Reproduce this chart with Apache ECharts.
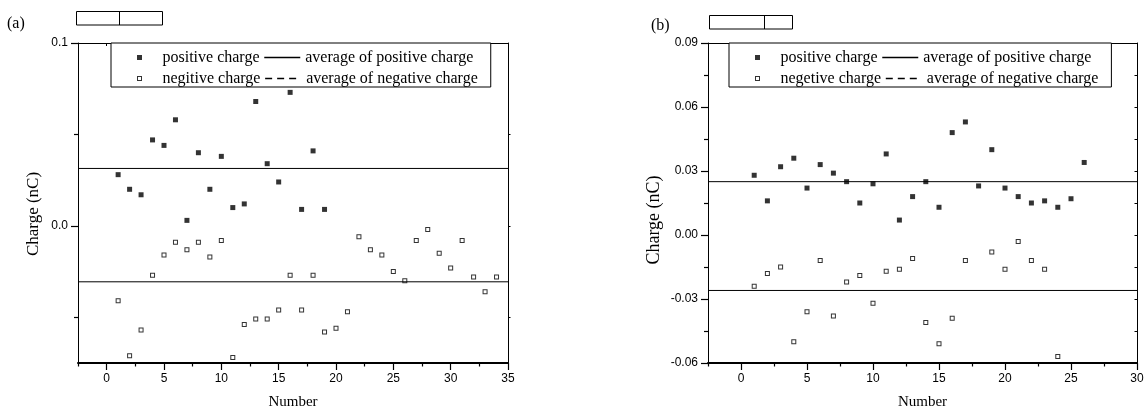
<!DOCTYPE html>
<html><head><meta charset="utf-8">
<script src="https://cdn.jsdelivr.net/npm/echarts@6/dist/echarts.min.js"></script>
<style>html,body{margin:0;padding:0;background:#fff}#c{width:1145px;height:407px}</style>
</head><body><div id="c"></div>
<script>
// ---------- data: panel (a) ----------
const posNumA = [1,2,3,4,5,6,7,8,9,10,11,12,13,14,15,16,17,18,19];
const posA = [0.028,0.020,0.017,0.047,0.044,0.058,0.003,0.040,0.020,0.038,0.010,0.012,0.068,0.034,0.024,0.073,0.009,0.041,0.009];
const negNumA = [1,2,3,4,5,6,7,8,9,10,11,12,13,14,15,16,17,18,19,20,21,22,23,24,25,26,27,28,29,30,31,32,33,34];
const negA = [-0.041,-0.071,-0.057,-0.027,-0.016,-0.009,-0.013,-0.009,-0.017,-0.008,-0.072,-0.054,-0.051,-0.051,-0.046,-0.027,-0.046,-0.027,-0.058,-0.056,-0.047,-0.006,-0.013,-0.016,-0.025,-0.030,-0.008,-0.002,-0.015,-0.023,-0.008,-0.028,-0.036,-0.028];
const avgPosA = 0.0314;
const avgNegA = -0.0306;

// ---------- data: panel (b) ----------
const posNumB = [1,2,3,4,5,6,7,8,9,10,11,12,13,14,15,16,17,18,19,20,21,22,23,24,25,26];
const posB = [0.028,0.016,0.032,0.036,0.022,0.033,0.029,0.025,0.015,0.024,0.038,0.007,0.018,0.025,0.013,0.048,0.053,0.023,0.040,0.022,0.018,0.015,0.016,0.013,0.017,0.034];
const negNumB = [1,2,3,4,5,6,7,8,9,10,11,12,13,14,15,16,17,19,20,21,22,23,24];
const negB = [-0.024,-0.018,-0.015,-0.050,-0.036,-0.012,-0.038,-0.022,-0.019,-0.032,-0.017,-0.016,-0.011,-0.041,-0.051,-0.039,-0.012,-0.008,-0.016,-0.003,-0.012,-0.016,-0.057];
const avgPosB = 0.025;
const avgNegB = -0.026;

// ---------- ticks ----------
const xMajorA = [0,5,10,15,20,25,30,35];
const xMinorA = [-2.5,2.5,7.5,12.5,17.5,22.5,27.5,32.5];
const xTopA = [0,2.5,5,7.5,10,12.5,15,17.5,20,22.5,25,27.5,30,32.5];
const yMajorA = [0,0.1];
const yMinorA = [-0.05,0.05];
const yRightA = [-0.05,0,0.05];

const xMajorB = [0,5,10,15,20,25,30];
const xMinorB = [-2.5,2.5,7.5,12.5,17.5,22.5,27.5];
const xTopB = [0.76,4.02,7.28,10.55,13.84,17.12,20.41,23.6,26.86];
const yMajorB = [-0.06,-0.03,0,0.03,0.06,0.09];
const yMinorB = [-0.045,-0.015,0.015,0.045,0.075];
const yRightB = [-0.045,-0.03,-0.015,0,0.015,0.03,0.045,0.06,0.075];

const namesA = ['positive charge','average of positive charge','negitive charge','average of negative charge'];
const namesB = ['positive charge','average of positive charge','negetive charge','average of negative charge'];

const SERIF = 'Liberation Serif';
const SANS = 'Liberation Sans';
const SQ = 'path://M0,0H10V10H0Z';
const HSQ = 'path://M0,0H10V10H0ZM2,2V8H8V2Z';

const zip = (xs, ys) => xs.map((x, i) => [x, ys[i]]);

function xAxes(grid, xmin, xmax, major, minor, top) {
  return [
    { gridIndex: grid, type: 'value', position: 'bottom', min: xmin, max: xmax,
      axisLine: { onZero: false, lineStyle: { color: '#000', width: 2 } },
      axisTick: { customValues: major, length: 7, lineStyle: { color: '#000', width: 1.2 } },
      axisLabel: { customValues: major, color: '#000', fontFamily: SANS, fontSize: 12, margin: 10 },
      splitLine: { show: false },
      name: 'Number', nameLocation: 'middle', nameGap: 32,
      nameTextStyle: { color: '#000', fontFamily: SERIF, fontSize: 15 } },
    { gridIndex: grid, type: 'value', position: 'bottom', min: xmin, max: xmax,
      axisLine: { show: false, onZero: false },
      axisTick: { customValues: minor, length: 3.5, lineStyle: { color: '#000', width: 1.2 } },
      axisLabel: { show: false }, splitLine: { show: false } },
    { gridIndex: grid, type: 'value', position: 'top', min: xmin, max: xmax,
      axisLine: { onZero: false, lineStyle: { color: '#000', width: 1 } },
      axisTick: { customValues: top, inside: true, length: 3, lineStyle: { color: '#000', width: 1 } },
      axisLabel: { show: false }, splitLine: { show: false } }
  ];
}

function yAxes(grid, ymin, ymax, major, minor, right, rightInside, fmt, nameGap, nameSize, namePad) {
  return [
    { gridIndex: grid, type: 'value', position: 'left', min: ymin, max: ymax,
      axisLine: { onZero: false, lineStyle: { color: '#000', width: 1 } },
      axisTick: { customValues: major, length: 7, lineStyle: { color: '#000', width: 1.2 } },
      axisLabel: { customValues: major, color: '#000', fontFamily: SANS, fontSize: 12, margin: 10, formatter: fmt },
      splitLine: { show: false },
      name: 'Charge (nC)', nameLocation: 'middle', nameGap: nameGap,
      nameTextStyle: { color: '#000', fontFamily: SERIF, fontSize: nameSize, padding: namePad } },
    { gridIndex: grid, type: 'value', position: 'left', min: ymin, max: ymax,
      axisLine: { show: false, onZero: false },
      axisTick: { customValues: minor, length: 4, lineStyle: { color: '#000', width: 1.2 } },
      axisLabel: { show: false }, splitLine: { show: false } },
    { gridIndex: grid, type: 'value', position: 'right', min: ymin, max: ymax,
      axisLine: { onZero: false, lineStyle: { color: '#000', width: 1 } },
      axisTick: { customValues: right, inside: rightInside, length: 2.5, lineStyle: { color: '#000', width: 1 } },
      axisLabel: { show: false }, splitLine: { show: false } }
  ];
}

function seriesFor(names, xi, yi, xmin, xmax, pn, pv, nn, nv, ap, an) {
  return [
    { type: 'scatter', name: names[0], xAxisIndex: xi, yAxisIndex: yi, data: zip(pn, pv),
      symbol: SQ, symbolSize: 5, itemStyle: { color: '#000' }, z: 3 },
    { type: 'line', name: names[1], xAxisIndex: xi, yAxisIndex: yi, data: [[xmin, ap], [xmax, ap]],
      symbol: 'none', lineStyle: { color: '#000', width: 1 }, itemStyle: { color: '#000' } },
    { type: 'scatter', name: names[2], xAxisIndex: xi, yAxisIndex: yi, data: zip(nn, nv),
      symbol: HSQ, symbolSize: 5, itemStyle: { color: '#000' }, z: 3 },
    { type: 'line', name: names[3], xAxisIndex: xi, yAxisIndex: yi, data: [[xmin, an], [xmax, an]],
      symbol: 'none', lineStyle: { color: '#000', width: 1 }, itemStyle: { color: '#000' } }
  ];
}

function legendFor(names, left) {
  return {
    left: left, top: 43, width: 370, orient: 'horizontal',
    itemWidth: 36, itemHeight: 5, itemGap: 4,
    padding: [6, 13, 0, 26],
    borderColor: '#000', borderWidth: 1, borderRadius: 0, backgroundColor: '#fff',
    selectedMode: false,
    textStyle: { color: '#000', fontFamily: SERIF, fontSize: 16, lineHeight: 17 },
    data: [
      { name: names[0], icon: SQ },
      { name: names[1], itemStyle: { opacity: 0 }, lineStyle: { width: 1.5 } },
      { name: names[2], icon: HSQ },
      { name: names[3], itemStyle: { opacity: 0 }, lineStyle: { type: [7, 5], width: 1.5 } }
    ]
  };
}

const option = {
  animation: false,
  backgroundColor: '#fff',
  grid: [
    { left: 78, top: 43, width: 430, height: 320, containLabel: false, outerBoundsMode: 'none' },
    { left: 708, top: 43, width: 429, height: 320, containLabel: false, outerBoundsMode: 'none' }
  ],
  xAxis: [].concat(
    xAxes(0, -2.5, 35, xMajorA, xMinorA, xTopA),
    xAxes(1, -2.5, 30, xMajorB, xMinorB, xTopB)
  ),
  yAxis: [].concat(
    yAxes(0, -0.075, 0.1, yMajorA, yMinorA, yRightA, false, v => v.toFixed(1), 36, 17, [0, 22, 0, 0]),
    yAxes(1, -0.06, 0.09, yMajorB, yMinorB, yRightB, true, v => v.toFixed(2), 45, 18, [0, 34, 0, 0])
  ),
  legend: [ legendFor(namesA, 111), legendFor(namesB, 729) ],
  series: [].concat(
    seriesFor(namesA, 0, 0, -2.5, 35, posNumA, posA, negNumA, negA, avgPosA, avgNegA),
    seriesFor(namesB, 3, 3, -2.5, 30, posNumB, posB, negNumB, negB, avgPosB, avgNegB)
  ),
  graphic: [
    { type: 'text', style: { x: 7, y: 23.5, text: '(a)', font: '16px "Liberation Serif"', fill: '#000', verticalAlign: 'middle' } },
    { type: 'rect', shape: { x: 76.5, y: 11.5, width: 86, height: 13.5 }, style: { fill: 'none', stroke: '#000', lineWidth: 1 } },
    { type: 'line', shape: { x1: 119.5, y1: 11.5, x2: 119.5, y2: 25 }, style: { stroke: '#000', lineWidth: 1 } },
    { type: 'text', style: { x: 651, y: 25.5, text: '(b)', font: '16px "Liberation Serif"', fill: '#000', verticalAlign: 'middle' } },
    { type: 'rect', shape: { x: 709.5, y: 15.5, width: 83, height: 13.5 }, style: { fill: 'none', stroke: '#000', lineWidth: 1 } },
    { type: 'line', shape: { x1: 764.5, y1: 15.5, x2: 764.5, y2: 29 }, style: { stroke: '#000', lineWidth: 1 } }
  ]
};

const chart = echarts.init(document.getElementById('c'), null, { renderer: 'canvas' });
chart.setOption(option);
</script>
</body></html>
